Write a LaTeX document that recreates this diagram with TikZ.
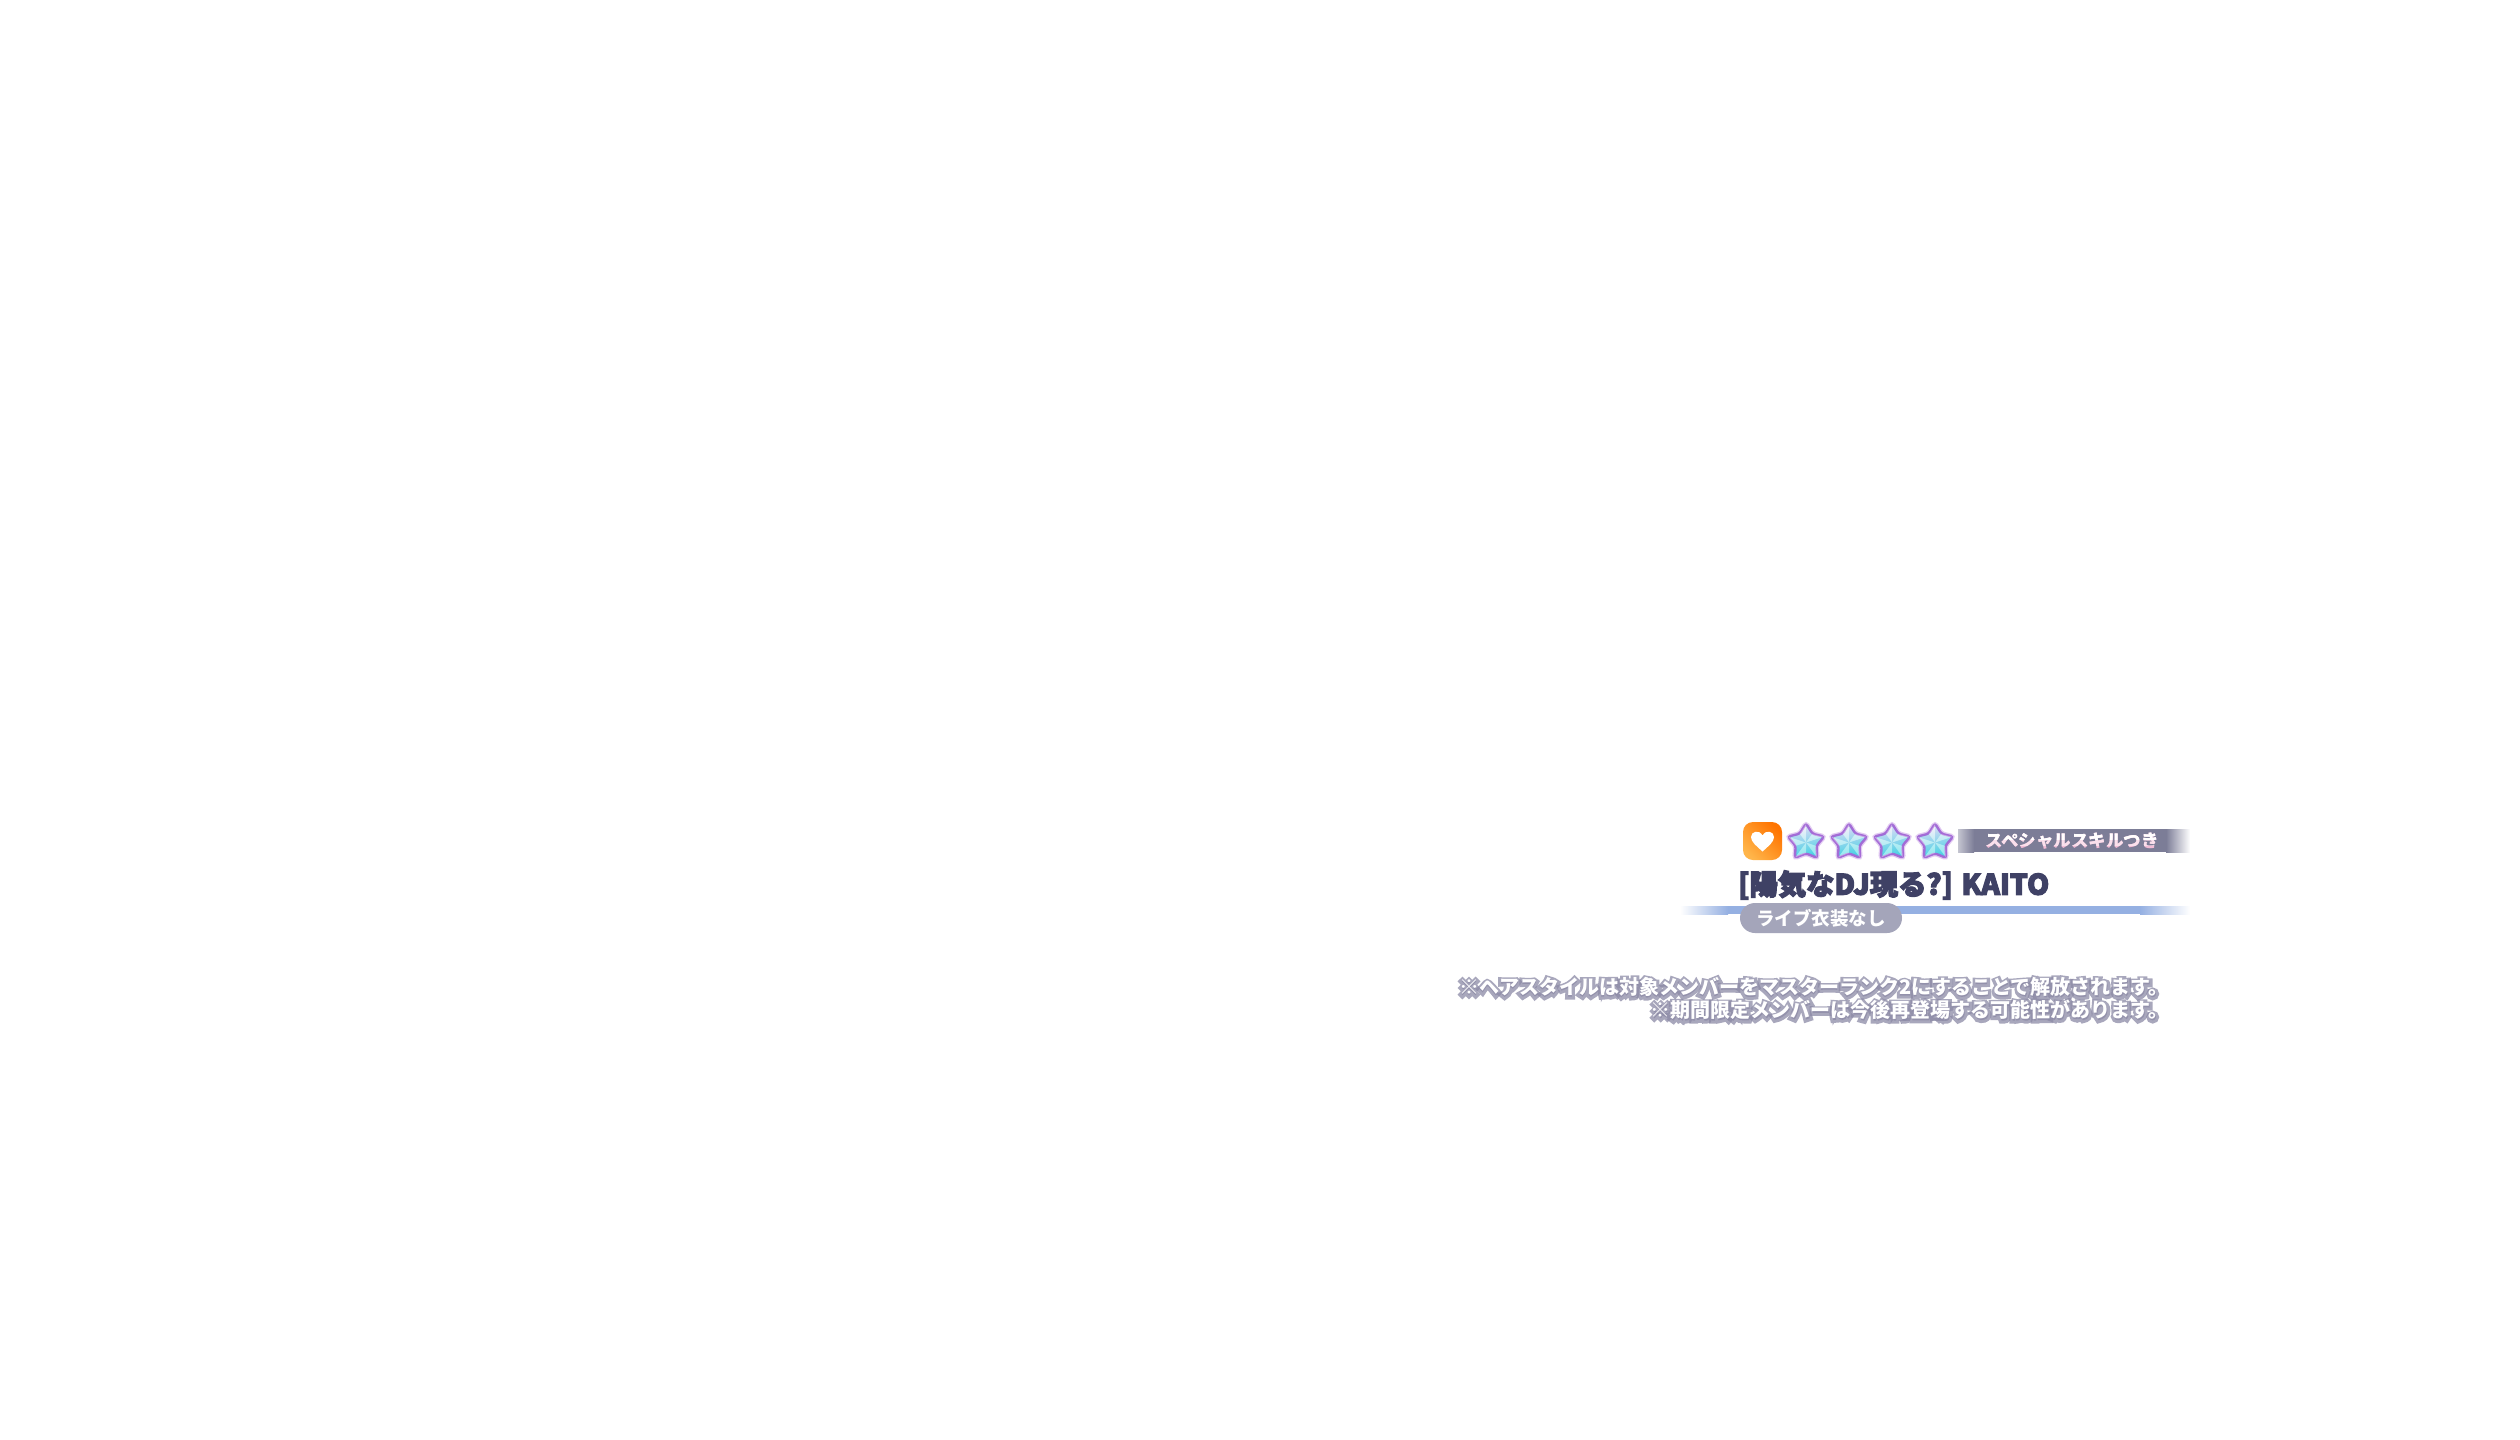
\documentclass[tikz,border=0pt]{standalone}
\usepackage{fontspec}
\newfontfamily\jp{Noto Sans CJK JP}
\newfontfamily\jptitle{Noto Sans CJK JP}[BoldFeatures={FakeBold=4}]
\newfontfamily\jphalo{Noto Sans CJK JP}[BoldFeatures={FakeBold=30}]
\usetikzlibrary{shapes.geometric,calc}
\definecolor{titlecol}{HTML}{3F4165}
\definecolor{linecol}{HTML}{95B0E2}
\definecolor{pillcol}{HTML}{A4A5BA}
\definecolor{bannercol}{HTML}{7C7D97}
\definecolor{halocol}{HTML}{8C8AA6}
\definecolor{starline}{HTML}{A56CD6}
\definecolor{starglow}{HTML}{E2CCF2}
\definecolor{startop}{HTML}{FCE8FA}
\definecolor{starmid}{HTML}{E6C6F2}
\definecolor{starbot}{HTML}{3CDDE4}
\definecolor{facetdark}{HTML}{4A7FE0}
\definecolor{heartA}{HTML}{FF7400}
\definecolor{heartB}{HTML}{FFB54A}
\definecolor{skillpink}{HTML}{F3BCD6}
\definecolor{skillmid}{HTML}{FAE0EC}
\newcommand{\noteonetext}{※ヘアスタイルは対象メンバーをマスターランク2にすることで解放されます。}
\newcommand{\notetwotext}{※期間限定メンバーは今後再登場する可能性があります。}
\begin{document}
\begin{tikzpicture}[x=1pt,y=-1pt,
  notestyle/.style={font=\jp\bfseries\fontsize{20}{20}\selectfont, inner sep=0pt, anchor=east},
  halostyle/.style={font=\jphalo\bfseries\fontsize{20}{20}\selectfont, inner sep=0pt, anchor=east, text=halocol, opacity=0.75},
  titlestyle/.style={font=\jptitle\bfseries\fontsize{28.3}{28.3}\selectfont, inner sep=0pt, anchor=west, text=titlecol},
  skillstyle/.style={font=\jp\bfseries\fontsize{17.5}{17.5}\selectfont, inner sep=0pt},
  pillstyle/.style={rectangle, rounded corners=15pt, minimum width=162pt, minimum height=30pt, inner sep=0pt, fill=pillcol, text=white, font=\jp\bfseries\fontsize{18.5}{18.5}\selectfont},
  starstyle/.style={star, star points=5, star point ratio=1.75, minimum size=38pt, inner sep=0pt, draw=starline, line width=2.4pt, rounded corners=2.5pt, top color=startop, middle color=starmid, bottom color=starbot, shading angle=8,
     preaction={draw=starglow, line width=5pt, rounded corners=2.5pt}},
  heartbox/.style={rectangle, rounded corners=10pt, minimum width=39pt, minimum height=38pt, inner sep=0pt, top color=heartA, bottom color=heartB, shading angle=-45}
]
\fill[white] (0,0) rectangle (2520,1440);
\useasboundingbox (0,0) rectangle (2520,1440);

% heart icon
\node[heartbox] (heart) at (1762.5,841) {};
\fill[white, shift={(heart.center)}, y=-1pt] (0,10.5) .. controls (-6,5) and (-11.5,1) .. (-11.5,-4) .. controls (-11.5,-9.5) and (-3.5,-12) .. (0,-5.5) .. controls (3.5,-12) and (11.5,-9.5) .. (11.5,-4) .. controls (11.5,1) and (6,5) .. (0,10.5) -- cycle;

% stars
\node[starstyle] (s1) at (1806,842.5) {};
\node[starstyle] (s2) at (1849,842.5) {};
\node[starstyle] (s3) at (1892,842.5) {};
\node[starstyle] (s4) at (1935,842.5) {};
\foreach \s in {s1,s2,s3,s4}{
  \foreach \i [evaluate=\i as \j using {int(mod(\i+3,5)+1)}] in {1,...,5}{
    \fill[white, opacity=0.38] (\s.center) -- ($(\s.center)!0.86!(\s.outer point \i)$) -- ($(\s.center)!0.86!(\s.inner point \i)$) -- cycle;
    \fill[facetdark, opacity=0.12] (\s.center) -- ($(\s.center)!0.86!(\s.outer point \i)$) -- ($(\s.center)!0.86!(\s.inner point \j)$) -- cycle;
  }
}

% special skill banner
\fill[left color=bannercol!45, right color=bannercol] (1958,829) rectangle (1974,852);
\fill[bannercol] (1974,829) rectangle (2166,852);
\fill[left color=bannercol, right color=white] (2166,829) rectangle (2190,852);
\node[skillstyle, text=skillpink] (skill) at (2072,841) {スペシャルスキルつき};
\begin{scope}
  \clip (1975,820) rectangle (2170,845);
  \node[skillstyle, text=skillmid] (skillm) at (2072,841) {スペシャルスキルつき};
\end{scope}
\begin{scope}
  \clip (1975,820) rectangle (2170,839);
  \node[skillstyle, text=white] (skillw) at (2072,841) {スペシャルスキルつき};
\end{scope}

% title
\node[titlestyle] (title) at (1738,885) {[陽気なDJ現る?] KAITO};

% blue line
\fill[left color=white, right color=linecol] (1680,906) rectangle (1728,914);
\fill[linecol] (1728,906) rectangle (2140,914);
\fill[left color=linecol, right color=white] (2140,906) rectangle (2190,914);

% live costume pill
\node[pillstyle] (live) at (1821,918) {ライブ衣装なし};

% notes with halo
\node[halostyle, yshift=-1pt] (halo1) at (2169,987) {\noteonetext};
\node[halostyle, yshift=-1pt] (halo2) at (2169,1010) {\notetwotext};
\node[notestyle, text=white] (note1) at (2169,987) {\noteonetext};
\node[notestyle, text=white] (note2) at (2169,1010) {\notetwotext};
\end{tikzpicture}
\end{document}
